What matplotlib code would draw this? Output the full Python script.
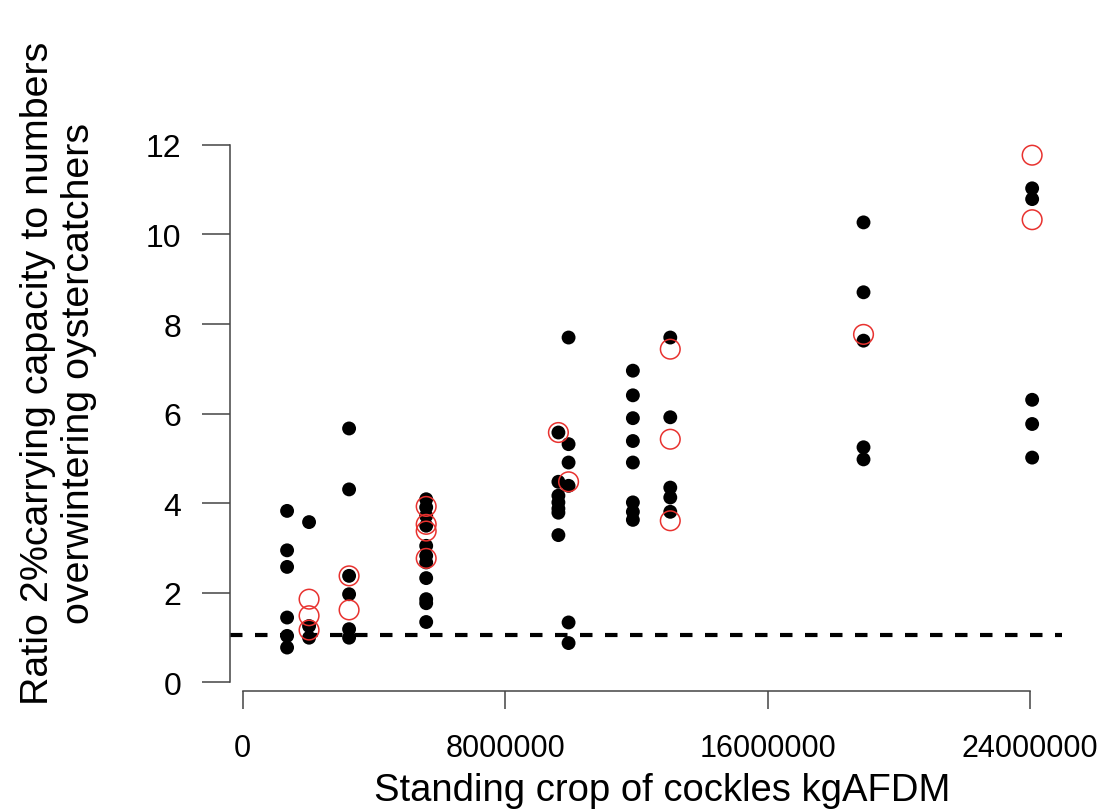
import matplotlib
matplotlib.use("Agg")
import matplotlib.pyplot as plt

plt.rcParams['font.family'] = ['Liberation Sans', 'DejaVu Sans']

# Standing crop of cockles (kg AFDM) for each site/year group
black_x = ([1.35e6] * 6 + [2.02e6] * 3 + [3.24e6] * 6 + [5.59e6] * 11 +
           [9.62e6] * 7 + [9.93e6] * 6 + [11.89e6] * 8 + [13.03e6] * 5 +
           [18.92e6] * 5 + [24.06e6] * 5)
black_y = [3.83, 2.95, 2.58, 1.45, 1.04, 0.78,
           3.58, 1.26, 1.00,
           5.67, 4.31, 2.38, 1.97, 1.19, 1.00,
           4.09, 3.91, 3.72, 3.50, 3.05, 2.83, 2.68, 2.33, 1.86, 1.77, 1.35,
           5.58, 4.48, 4.17, 4.02, 3.88, 3.79, 3.29,
           7.70, 5.32, 4.91, 4.39, 1.34, 0.88,
           6.96, 6.41, 5.90, 5.39, 4.91, 4.02, 3.81, 3.63,
           7.70, 5.92, 4.35, 4.13, 3.81,
           10.27, 8.71, 7.63, 5.25, 4.98,
           11.03, 10.79, 6.31, 5.77, 5.02]

red_x = ([2.02e6] * 3 + [3.24e6] * 2 + [5.59e6] * 4 + [9.62e6] + [9.93e6] +
         [13.03e6] * 3 + [18.92e6] + [24.06e6] * 2)
red_y = [1.86, 1.49, 1.17,
         2.38, 1.62,
         3.93, 3.53, 3.38, 2.77,
         5.58,
         4.48,
         7.44, 5.43, 3.61,
         7.77,
         11.77, 10.33]

threshold = 1.05
x_ticks = [0, 8000000, 16000000, 24000000]
x_ticklabels = ["0", "8000000", "16000000", "24000000"]
y_ticks = [0, 2, 4, 6, 8, 10, 12]

W, H = 1102, 812
fig = plt.figure(figsize=(W / 100, H / 100), dpi=100)
# plot region in pixels: left 230, right 1062, top 132, bottom 692
ax = fig.add_axes([230 / W, (H - 692) / H, 832 / W, 560 / H])
ax.set_xlim(-0.39e6, 24.97e6)
ax.set_ylim(-0.19, 12.31)

ax.axhline(threshold, color='black', lw=3, linestyle=(0, (3, 3)), zorder=1)
ax.scatter(black_x, black_y, s=100, color='black', edgecolors='none', zorder=2)
ax.scatter(red_x, red_y, s=200, facecolors='none', edgecolors='#e8322f',
           linewidths=1.1, zorder=3)

for side in ['top', 'right']:
    ax.spines[side].set_visible(False)
axis_col = '#444444'
ax.spines['left'].set_bounds(0, 12)
ax.spines['bottom'].set_bounds(0, 24e6)
for side in ['left', 'bottom']:
    ax.spines[side].set_color(axis_col)
    ax.spines[side].set_linewidth(1.1)

ax.set_xticks(x_ticks)
ax.set_xticklabels(x_ticklabels)
ax.set_yticks(y_ticks)
ax.tick_params(axis='y', length=20, width=1.1, color=axis_col, pad=15,
               labelsize=23)
ax.tick_params(axis='x', length=13, width=1.1, color=axis_col, pad=17,
               labelsize=22)

fig.text(662 / W, (H - 801) / H, "Standing crop of cockles kgAFDM",
         ha='center', va='baseline', fontsize=27.5)
fig.text(58.5 / W, (H - 373) / H,
         "Ratio 2%carrying capacity to numbers\noverwintering oystercatchers",
         ha='center', va='center', rotation=90, fontsize=28.4,
         multialignment='center', linespacing=1.2)

fig.savefig("out.png", dpi=100)
